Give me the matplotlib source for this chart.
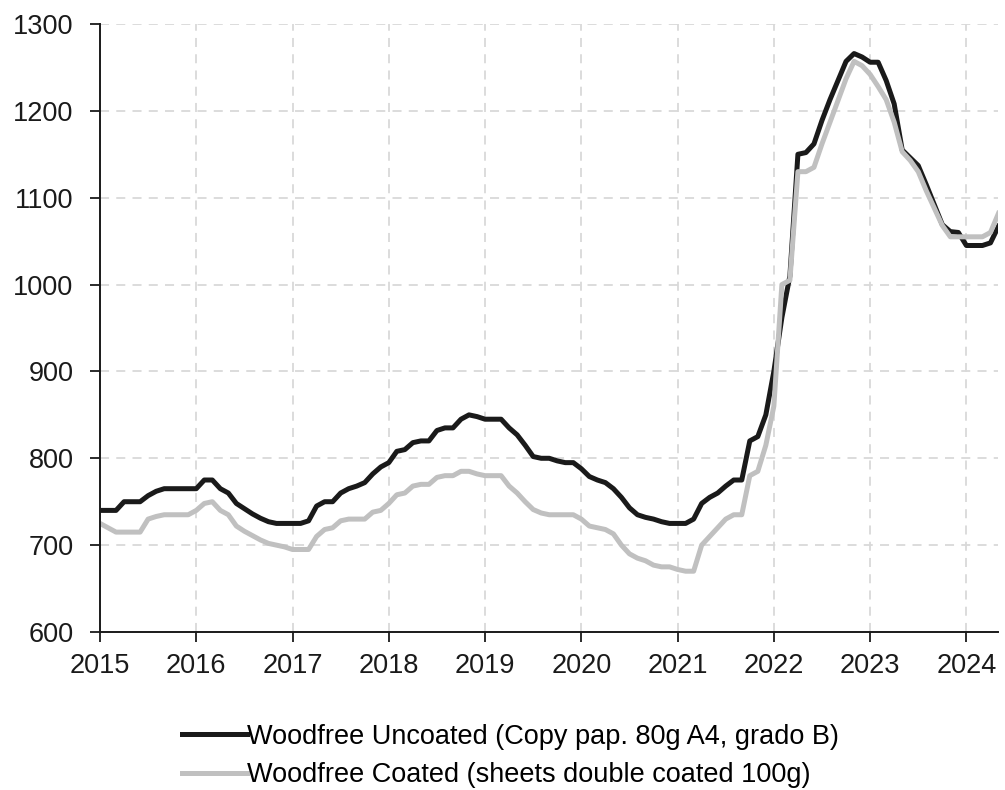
import matplotlib
matplotlib.use("Agg")
import matplotlib.pyplot as plt
import numpy as np

plt.rcParams["font.family"] = ["Liberation Sans", "DejaVu Sans"]

# monthly prices, Jan 2015 - May 2024
uncoated = [
    740, 740, 740, 750, 750, 750, 757, 762, 765, 765, 765, 765,      # 2015
    765, 775, 775, 765, 760, 748, 742, 736, 731, 727, 725, 725,      # 2016
    725, 725, 728, 745, 750, 750, 760, 765, 768, 772, 782, 790,      # 2017
    795, 808, 810, 818, 820, 820, 832, 835, 835, 845, 850, 848,      # 2018
    845, 845, 845, 835, 827, 815, 802, 800, 800, 797, 795, 795,      # 2019
    788, 779, 775, 772, 765, 755, 743, 735, 732, 730, 727, 725,      # 2020
    725, 725, 730, 748, 755, 760, 768, 775, 775, 820, 825, 850,      # 2021
    900, 962, 1010, 1150, 1152, 1162, 1189, 1213, 1235, 1257, 1266, 1262,  # 2022
    1256, 1256, 1235, 1208, 1155, 1146, 1137, 1115, 1092, 1069, 1061, 1060,  # 2023
    1045, 1045, 1045, 1048, 1067,                                    # 2024
]
coated = [
    725, 720, 715, 715, 715, 715, 730, 733, 735, 735, 735, 735,
    740, 748, 750, 740, 735, 722, 716, 711, 706, 702, 700, 698,
    695, 695, 695, 710, 718, 720, 728, 730, 730, 730, 738, 740,
    748, 758, 760, 768, 770, 770, 778, 780, 780, 785, 785, 782,
    780, 780, 780, 768, 760, 750, 741, 737, 735, 735, 735, 735,
    730, 722, 720, 718, 713, 700, 690, 685, 682, 677, 675, 675,
    672, 670, 670, 700, 710, 720, 730, 735, 735, 780, 785, 815,
    860, 1000, 1005, 1130, 1130, 1135, 1162, 1187, 1212, 1237, 1257, 1252,
    1242, 1228, 1213, 1187, 1153, 1143, 1130, 1108, 1088, 1068, 1055, 1055,
    1055, 1055, 1055, 1060, 1082,
]
labels = ["Woodfree Uncoated (Copy pap. 80g A4, grado B)",
          "Woodfree Coated (sheets double coated 100g)"]
years = list(range(2015, 2025))
yticks = list(range(600, 1301, 100))

t = 2015 + np.arange(len(uncoated)) / 12

fig = plt.figure(figsize=(10.05, 7.9), dpi=100)
ax = fig.add_axes([0.0995, 0.2, 0.894, 0.7696])

ax.plot(t, uncoated, color="#1a1a1a", lw=3.6, label=labels[0])
ax.plot(t, coated, color="#c0c0c0", lw=3.6, label=labels[1])

ax.set_xlim(2015, t[-1])
ax.set_ylim(600, 1300)
ax.set_xticks(years)
ax.set_yticks(yticks)
ax.grid(True, color="#d9d9d9", linestyle=(0, (5, 4)), lw=1.3)
ax.set_axisbelow(True)
for s in ["top", "right"]:
    ax.spines[s].set_visible(False)
for s in ["left", "bottom"]:
    ax.spines[s].set_linewidth(1.4)
    ax.spines[s].set_color("#1a1a1a")
ax.tick_params(direction="out", length=7, width=1.3, labelsize=19.5, colors="#1a1a1a")
ax.tick_params(axis="y", pad=12)
ax.tick_params(axis="x", pad=8)

fig.legend(loc="center", bbox_to_anchor=(0.5075, 0.043), frameon=False,
           fontsize=19.5, handlelength=2.4, handletextpad=0.0, labelspacing=0.45,
           borderpad=0)

fig.savefig("out.png", dpi=100)
